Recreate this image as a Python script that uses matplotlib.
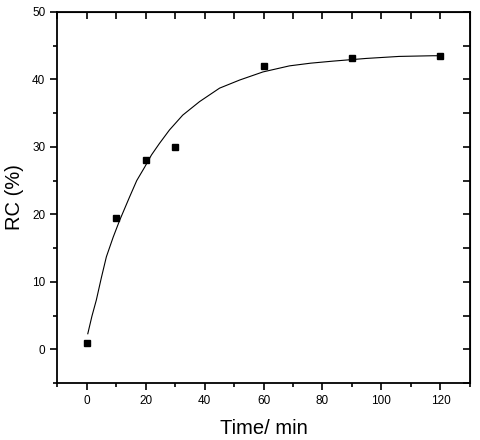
import matplotlib
matplotlib.use("Agg")
import matplotlib.pyplot as plt
from matplotlib.ticker import MultipleLocator

plt.rcParams['font.family'] = ['Liberation Sans', 'DejaVu Sans']

# measured points
time_min = [0, 10, 20, 30, 60, 90, 120]
rc_pct = [1.0, 19.5, 28.0, 30.0, 42.0, 43.2, 43.5]

# fitted curve
fit_x = [0.4, 1.8, 3.3, 5.0, 6.7, 9.0, 11.2, 14.6, 17.0, 19.7, 22.0, 24.7,
         28.1, 32.6, 38.3, 45.1, 51.9, 59.8, 68.8, 76.0, 83.5, 94.8, 106,
         117.4, 120]
fit_y = [2.3, 4.9, 7.3, 10.6, 13.7, 16.6, 19.1, 22.6, 25.0, 27.0, 28.8, 30.5,
         32.5, 34.7, 36.7, 38.7, 39.9, 41.1, 42.0, 42.4, 42.7, 43.1, 43.4,
         43.5, 43.5]

fig = plt.figure(figsize=(4.8, 4.4), dpi=100)
ax = fig.add_axes([0.119, 0.1295, 0.860, 0.8435])

ax.plot(fit_x, fit_y, color='black', lw=0.8)
ax.plot(time_min, rc_pct, 's', color='black', ms=5)

ax.set_xlim(-10, 130)
ax.set_ylim(-5, 50)
ax.xaxis.set_major_locator(MultipleLocator(20))
ax.xaxis.set_minor_locator(MultipleLocator(10))
ax.yaxis.set_major_locator(MultipleLocator(10))
ax.yaxis.set_minor_locator(MultipleLocator(5))

for s in ax.spines.values():
    s.set_linewidth(1.3)

ax.tick_params(which='both', direction='out', top=False, right=False,
               labelsize=8.5, width=1.2)
ax.tick_params(which='major', length=5)
ax.tick_params(which='minor', length=3)

# mirrored inward ticks on top and right
ax_t = ax.secondary_xaxis('top')
ax_t.xaxis.set_major_locator(MultipleLocator(10))
ax_t.tick_params(direction='in', length=5, width=1.2, labeltop=False)
ax_r = ax.secondary_yaxis('right')
ax_r.yaxis.set_major_locator(MultipleLocator(5))
ax_r.tick_params(direction='in', length=5, width=1.2, labelright=False)

ax.set_xlabel('Time/ min', fontsize=14.5, labelpad=9)
ax.set_ylabel('RC (%)', fontsize=14.5, labelpad=6)

fig.savefig('out.png', dpi=100)
